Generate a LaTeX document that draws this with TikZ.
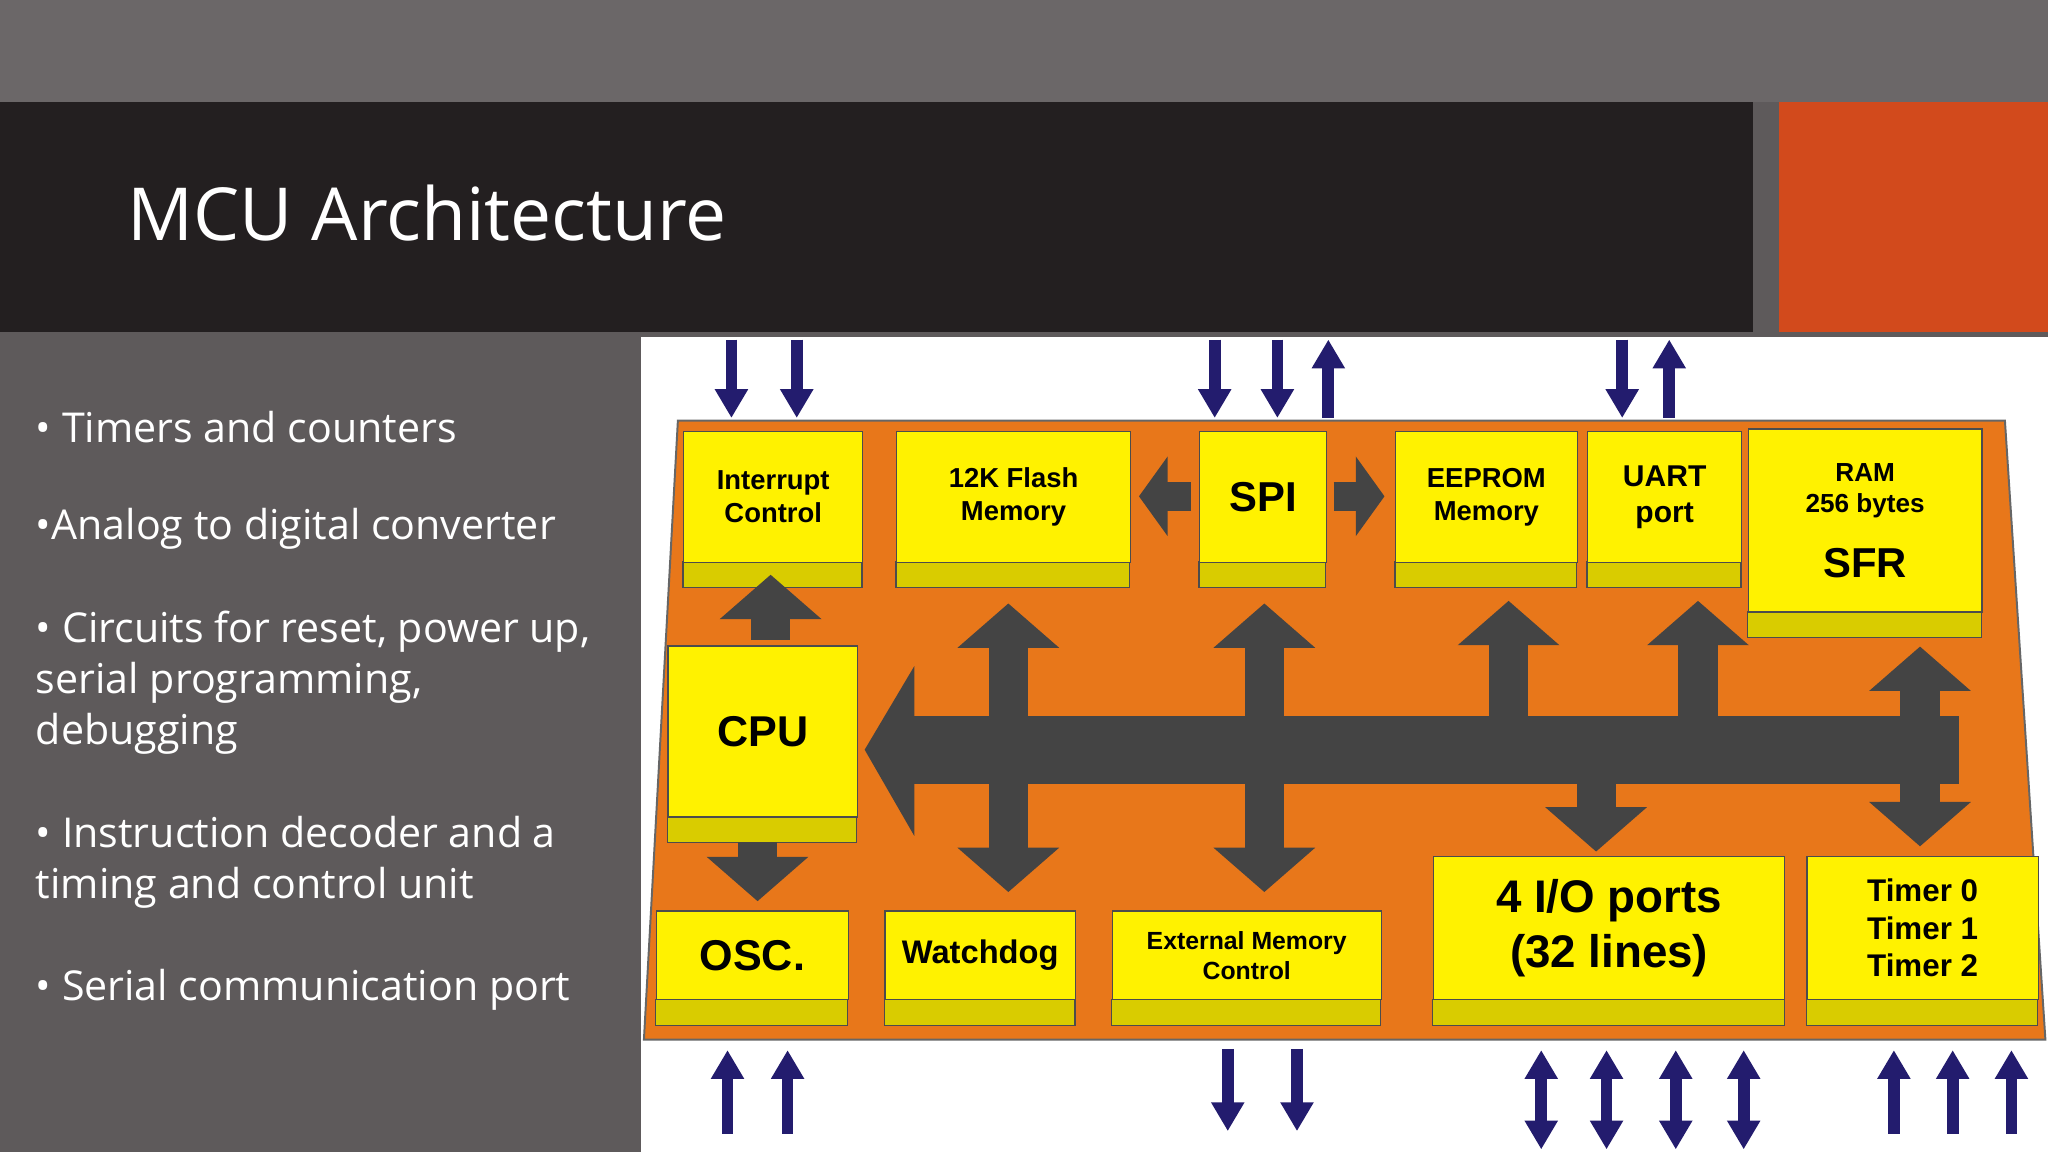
\documentclass[tikz,border=0pt]{standalone}
\usepackage{fontspec}
\setmainfont{Open Sans}
\newfontfamily\arialb{Liberation Sans}
\usetikzlibrary{arrows.meta}
\definecolor{bgA}{HTML}{5E5A5B}
\definecolor{bgB}{HTML}{6B6768}
\definecolor{titlebar}{HTML}{231F20}
\definecolor{accent}{HTML}{D24A1C}
\definecolor{board}{HTML}{E8771A}
\definecolor{ylw}{HTML}{FFF200}
\definecolor{ylwd}{HTML}{D9CC00}
\definecolor{bus}{HTML}{444444}
\definecolor{blu}{HTML}{231C6E}
\tikzset{
  box/.style={draw=black!70, line width=1pt, fill=ylw, anchor=north west, inner sep=0pt, align=center},
  strip/.style={draw=black!70, line width=1pt, fill=ylwd},
  garrow/.style={draw=bus, line width=30pt, -{Triangle[width=76pt,length=34pt]}},
  gdarrow/.style={draw=bus, line width=30pt, {Triangle[width=76pt,length=34pt]}-{Triangle[width=76pt,length=34pt]}},
  barrow/.style={draw=blu, line width=9pt, -{Triangle[width=24pt,length=22pt]}},
  bdarrow/.style={draw=blu, line width=9pt, {Triangle[width=24pt,length=22pt]}-{Triangle[width=24pt,length=22pt]}},
  bullet/.style={text=white, anchor=west, font=\fontsize{31.5}{39}\selectfont, align=left}
}
% \ybox{name}{x}{y}{w}{h}{text}{fontsize}
\newcommand\ybox[7]{%
  \fill[strip] (#2,#3+#5-20) rectangle (#2+#4,#3+#5);
  \node[box, minimum width=#4pt, minimum height=#5pt-20pt, font=\arialb\bfseries\fontsize{#7}{\dimexpr #7pt*6/5\relax}\selectfont] (#1) at (#2,#3) {#6};
}
\begin{document}
\begin{tikzpicture}[x=1pt,y=-1pt]
\useasboundingbox (0,0) rectangle (1568,882);
\fill[bgA] (0,0) rectangle (1568,882);
\fill[bgB] (0,0) rectangle (1568,78);
\fill[titlebar] (0,78) rectangle (1342,254);
\fill[accent] (1362,78) rectangle (1568,254);
\node[text=white, anchor=west, font=\fontsize{56}{62}\selectfont] (title) at (94,163) {MCU Architecture};

\node[bullet] (b1) at (24,327) {• Timers and counters};
\node[bullet] (b2) at (24,405) {•Analog to digital converter};
\node[bullet] (b3) at (24,523) {• Circuits for reset, power up,\\serial programming,\\debugging};
\node[bullet] (b4) at (24,660) {• Instruction decoder and a\\timing and control unit};
\node[bullet] (b5) at (24,758) {• Serial communication port};

\fill[white] (491,258) rectangle (1568,882);
\filldraw[fill=board, draw=black!60, line width=1.5pt] (519,322) -- (1535,322) -- (1566,796) -- (493,796) -- cycle;

% bus
\coordinate (busL) at (705,574);
\coordinate (busR) at (1500,574);
\fill[bus] (700,548) rectangle (1500,600);
\fill[bus] (700,510) -- (700,640) -- (662,574) -- cycle;

\ybox{intr}{523}{330}{137}{120}{Interrupt\\Control}{21}
\ybox{flash}{686}{330}{179}{120}{12K Flash\\Memory}{21}
\ybox{spi}{918}{330}{97}{120}{SPI}{32}
\ybox{eeprom}{1068}{330}{139}{120}{EEPROM\\Memory}{21}
\ybox{uart}{1215}{330}{118}{120}{UART\\port}{23}
\ybox{ram}{1338}{328}{179}{160}{RAM\\256 bytes\\[22pt]{\fontsize{32}{36}\selectfont SFR}}{20}
\ybox{cpu}{511}{494}{145}{151}{CPU}{33}
\ybox{osc}{502}{697}{147}{88}{OSC.}{33}
\ybox{wd}{677}{697}{146}{88}{Watchdog}{25}
\ybox{ext}{851}{697}{206}{88}{External Memory\\Control}{19}
\ybox{io}{1097}{655}{269}{130}{4 I/O ports\\(32 lines)}{35}
\ybox{tmr}{1383}{655}{177}{130}{Timer 0\\Timer 1\\Timer 2}{24}

% gray arrows
\draw[garrow] (590,490) -- (590,440);
\draw[garrow] (580,645) -- (580,690);
\draw[gdarrow] (772,462) -- (772,683);
\draw[gdarrow] (968,462) -- (968,683);
\draw[garrow] (busL -| 1155,0) -- (1155,460);
\draw[garrow] (busL -| 1300,0) -- (1300,460);
\draw[garrow] (busL -| 1222,0) -- (1222,652);
\draw[gdarrow] (1470,495) -- (1470,648);
\draw[draw=bus, line width=22pt, -{Triangle[width=60pt,length=22pt]}] (912,380) -- (872,380);
\draw[draw=bus, line width=22pt, -{Triangle[width=60pt,length=22pt]}] (1021,380) -- (1060,380);

% blue arrows top
\foreach \x/\d in {560/1,610/1,930/1,978/1,1017/0,1242/1,1278/0}{
  \ifnum\d=1 \draw[barrow] (\x,260) -- (\x,320); \else \draw[barrow] (\x,320) -- (\x,260); \fi
}
% bottom
\foreach \x in {557,603,1450,1495,1540} \draw[barrow] (\x,868) -- (\x,804);
\foreach \x in {940,993} \draw[barrow] (\x,803) -- (\x,866);
\foreach \x in {1180,1230,1283,1335} \draw[bdarrow] (\x,804) -- (\x,880);
\end{tikzpicture}
\end{document}
